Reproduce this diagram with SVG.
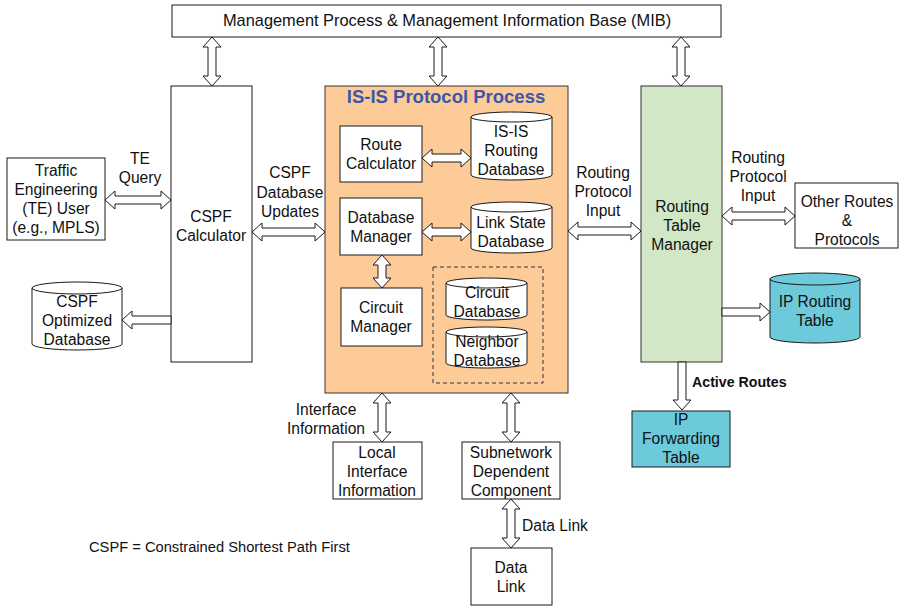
<svg xmlns="http://www.w3.org/2000/svg" width="899" height="606" viewBox="0 0 899 606">
  <style>
    text { font-family: "Liberation Sans", Arial, sans-serif; font-size: 15.6px; fill: #111; text-anchor: middle; }
    .box { fill: #fff; stroke: #1a1a1a; stroke-width: 1; }
    .peach { fill: #FDCB98; stroke: #333; stroke-width: 1; }
    .green { fill: #D2E7C6; stroke: #333; stroke-width: 1; }
    .teal { fill: #6CCADB; stroke: #1a1a1a; stroke-width: 1; }
    .dash { fill: none; stroke: #333; stroke-width: 1; stroke-dasharray: 4 3; }
    .cyl { fill: #fff; stroke: #1a1a1a; stroke-width: 1; }
    .cylTeal { fill: #6CCADB; stroke: #1a1a1a; stroke-width: 1; }
    .rim { fill: none; stroke: #1a1a1a; stroke-width: 1; }
    .arrow { fill: #fff; stroke: #1a1a1a; stroke-width: 1; stroke-linejoin: miter; }
    .title { font-weight: bold; font-size: 18.5px; fill: #3A57A8; }
    .bold { font-weight: bold; text-anchor: start; font-size: 14.2px; }
    .start { text-anchor: start; }
  </style>

  <!-- Management Process / MIB -->
  <g id="mib">
    <rect class="box" x="172" y="5" width="549" height="32"/>
    <text x="447" y="26" style="font-size:16.4px">Management Process &amp; Management Information Base (MIB)</text>
  </g>

  <!-- Traffic engineering user -->
  <g id="te-user">
    <rect class="box" x="7" y="158" width="98" height="82"/>
    <text x="56" y="176">Traffic</text>
    <text x="56" y="195">Engineering</text>
    <text x="56" y="214">(TE) User</text>
    <text x="56" y="233">(e.g., MPLS)</text>
  </g>

  <!-- CSPF calculator -->
  <g id="cspf-calc">
    <rect class="box" x="171" y="86" width="81" height="276"/>
    <text x="211" y="222">CSPF</text>
    <text x="211" y="241">Calculator</text>
  </g>

  <!-- CSPF optimized database -->
  <g id="cspf-db">
    <path class="cyl" d="M32,288 A45,6 0 0 1 122,288 V344 A45,6 0 0 1 32,344 Z"/>
    <path class="rim" d="M32,288 A45,6 0 0 0 122,288"/>
    <text x="77" y="307">CSPF</text>
    <text x="77" y="326">Optimized</text>
    <text x="77" y="345">Database</text>
  </g>

  <!-- IS-IS protocol process container -->
  <g id="isis">
    <rect class="peach" x="325" y="86" width="243" height="307"/>
    <text class="title" x="446" y="103">IS-IS Protocol Process</text>
  </g>

  <g id="route-calc">
    <rect class="box" x="340" y="126" width="82" height="56"/>
    <text x="381" y="150">Route</text>
    <text x="381" y="169">Calculator</text>
  </g>

  <g id="isis-db">
    <path class="cyl" d="M471,117 A40.5,5 0 0 1 552,117 V175 A40.5,5 0 0 1 471,175 Z"/>
    <path class="rim" d="M471,117 A40.5,5 0 0 0 552,117"/>
    <text x="511" y="137">IS-IS</text>
    <text x="511" y="156">Routing</text>
    <text x="511" y="175">Database</text>
  </g>

  <g id="db-mgr">
    <rect class="box" x="340" y="198" width="82" height="57"/>
    <text x="381" y="223">Database</text>
    <text x="381" y="242">Manager</text>
  </g>

  <g id="lsdb">
    <path class="cyl" d="M471,207 A40.5,5 0 0 1 552,207 V248 A40.5,5 0 0 1 471,248 Z"/>
    <path class="rim" d="M471,207 A40.5,5 0 0 0 552,207"/>
    <text x="511" y="228">Link State</text>
    <text x="511" y="247">Database</text>
  </g>

  <g id="circuit-mgr">
    <rect class="box" x="341" y="288" width="81" height="58"/>
    <text x="381" y="313">Circuit</text>
    <text x="381" y="332">Manager</text>
  </g>

  <g id="db-group">
    <rect class="dash" x="433" y="267" width="110" height="116"/>
  </g>

  <g id="circuit-db">
    <path class="cyl" d="M446,283 A40.5,5 0 0 1 527,283 V315 A40.5,5 0 0 1 446,315 Z"/>
    <path class="rim" d="M446,283 A40.5,5 0 0 0 527,283"/>
    <text x="487" y="298">Circuit</text>
    <text x="487" y="317">Database</text>
  </g>

  <g id="neighbor-db">
    <path class="cyl" d="M446,332 A40.5,5 0 0 1 527,332 V363 A40.5,5 0 0 1 446,363 Z"/>
    <path class="rim" d="M446,332 A40.5,5 0 0 0 527,332"/>
    <text x="487" y="347">Neighbor</text>
    <text x="487" y="366">Database</text>
  </g>

  <!-- Routing table manager -->
  <g id="rtm">
    <rect class="green" x="641" y="86" width="81" height="276"/>
    <text x="682" y="212">Routing</text>
    <text x="682" y="231">Table</text>
    <text x="682" y="250">Manager</text>
  </g>

  <g id="other-routes">
    <rect class="box" x="795" y="183" width="103" height="65"/>
    <text x="847" y="207">Other Routes</text>
    <text x="847" y="226">&amp;</text>
    <text x="847" y="245">Protocols</text>
  </g>

  <g id="ip-routing-table">
    <path class="cylTeal" d="M770,279 A45,6 0 0 1 860,279 V337 A45,6 0 0 1 770,337 Z"/>
    <path class="rim" d="M770,279 A45,6 0 0 0 860,279"/>
    <text x="815" y="307">IP Routing</text>
    <text x="815" y="326">Table</text>
  </g>

  <g id="ip-fwd">
    <rect class="teal" x="632" y="411" width="98" height="56"/>
    <text x="681" y="425">IP</text>
    <text x="681" y="444">Forwarding</text>
    <text x="681" y="463">Table</text>
  </g>

  <g id="local-if">
    <rect class="box" x="333" y="442" width="89" height="57"/>
    <text x="377" y="458">Local</text>
    <text x="377" y="477">Interface</text>
    <text x="377" y="496">Information</text>
  </g>

  <g id="subnet">
    <rect class="box" x="462" y="442" width="98" height="57"/>
    <text x="511" y="458">Subnetwork</text>
    <text x="511" y="477">Dependent</text>
    <text x="511" y="496">Component</text>
  </g>

  <g id="data-link">
    <rect class="box" x="471" y="548" width="81" height="57"/>
    <text x="511" y="573">Data</text>
    <text x="511" y="592">Link</text>
  </g>

  <!-- Connectors: hollow block arrows -->
  <g id="connectors">
    <path class="arrow" d="M212,37 L221,47 L216,47 L216,76 L221,76 L212,86 L203,76 L208,76 L208,47 L203,47 Z"/>
    <path class="arrow" d="M438,37 L447,47 L442,47 L442,76 L447,76 L438,86 L429,76 L434,76 L434,47 L429,47 Z"/>
    <path class="arrow" d="M681,37 L690,47 L685,47 L685,76 L690,76 L681,86 L672,76 L677,76 L677,47 L672,47 Z"/>
    <path class="arrow" d="M105,200 L115,191 L115,196 L161,196 L161,191 L171,200 L161,209 L161,204 L115,204 L115,209 Z"/>
    <path class="arrow" d="M122,320 L132,311 L132,316 L171,316 L171,324 L132,324 L132,329 Z"/>
    <path class="arrow" d="M252,232 L262,223 L262,228 L315,228 L315,223 L325,232 L315,241 L315,236 L262,236 L262,241 Z"/>
    <path class="arrow" d="M422,158 L432,149 L432,154 L461,154 L461,149 L471,158 L461,167 L461,162 L432,162 L432,167 Z"/>
    <path class="arrow" d="M422,232 L432,223 L432,228 L461,228 L461,223 L471,232 L461,241 L461,236 L432,236 L432,241 Z"/>
    <path class="arrow" d="M382,255 L391,265 L386,265 L386,278 L391,278 L382,288 L373,278 L378,278 L378,265 L373,265 Z"/>
    <path class="arrow" d="M568,231 L578,222 L578,227 L631,227 L631,222 L641,231 L631,240 L631,235 L578,235 L578,240 Z"/>
    <path class="arrow" d="M722,216 L732,207 L732,212 L785,212 L785,207 L795,216 L785,225 L785,220 L732,220 L732,225 Z"/>
    <path class="arrow" d="M770,312 L760,303 L760,308 L722,308 L722,316 L760,316 L760,321 Z"/>
    <path class="arrow" d="M682,410 L673,400 L678,400 L678,362 L686,362 L686,400 L691,400 Z"/>
    <path class="arrow" d="M382,393 L391,403 L386,403 L386,432 L391,432 L382,442 L373,432 L378,432 L378,403 L373,403 Z"/>
    <path class="arrow" d="M511,393 L520,403 L515,403 L515,432 L520,432 L511,442 L502,432 L507,432 L507,403 L502,403 Z"/>
    <path class="arrow" d="M511,499 L520,509 L515,509 L515,538 L520,538 L511,548 L502,538 L507,538 L507,509 L502,509 Z"/>
  </g>

  <!-- Connector labels -->
  <g id="labels">
    <text x="140" y="164">TE</text>
    <text x="140" y="183">Query</text>
    <text x="290" y="178">CSPF</text>
    <text x="290" y="198">Database</text>
    <text x="290" y="217">Updates</text>
    <text x="603" y="178">Routing</text>
    <text x="603" y="197">Protocol</text>
    <text x="603" y="216">Input</text>
    <text x="758" y="163">Routing</text>
    <text x="758" y="182">Protocol</text>
    <text x="758" y="201">Input</text>
    <text class="bold" x="692" y="387">Active Routes</text>
    <text x="326" y="415">Interface</text>
    <text x="326" y="434">Information</text>
    <text class="start" x="522" y="531">Data Link</text>
    <text class="start" x="89" y="552" style="font-size:14.7px">CSPF = Constrained Shortest Path First</text>
  </g>
</svg>
